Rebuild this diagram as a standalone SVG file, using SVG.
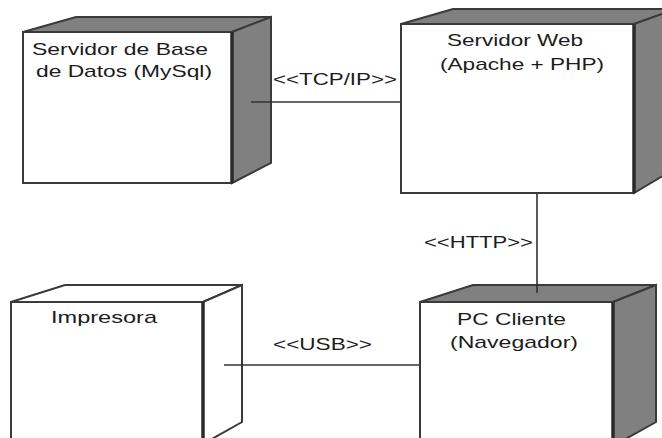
<svg xmlns="http://www.w3.org/2000/svg" width="662" height="438" viewBox="0 0 662 438">
<style>
.face{fill:#ffffff;stroke:#3a3a3a;stroke-width:2}
.shade{fill:#808080;stroke:#3a3a3a;stroke-width:2;stroke-linejoin:miter}
.plain{fill:#ffffff;stroke:#3a3a3a;stroke-width:2}
.edge{stroke:#2a2a2a;stroke-width:3.5}
.conn{stroke:#333333;stroke-width:1.6;fill:none}
text{font-family:"Liberation Sans",Arial,sans-serif;font-size:17px;fill:#1c1c1c}
</style>
<rect width="662" height="438" fill="#ffffff"/>
<g id="node-db">
<polygon class="shade" points="23,32 76,17 271,17 232,32"/>
<polygon class="shade" points="232,32 271,17 271,163 232,183"/>
<rect class="face" x="23" y="32" width="209" height="151"/>
<line class="edge" x1="232" y1="32" x2="232" y2="183"/>
<text x="32" y="55" textLength="176" lengthAdjust="spacingAndGlyphs">Servidor de Base</text>
<text x="36" y="77" textLength="176" lengthAdjust="spacingAndGlyphs">de Datos (MySql)</text>
</g>
<g id="node-web">
<polygon class="shade" points="401,24 453,9 676,9 634,24"/>
<polygon class="shade" points="634,24 676,9 676,168 634,193"/>
<rect class="face" x="401" y="24" width="233" height="169"/>
<line class="edge" x1="634" y1="24" x2="634" y2="193"/>
<text x="447" y="46" textLength="136" lengthAdjust="spacingAndGlyphs">Servidor Web</text>
<text x="440" y="70" textLength="164" lengthAdjust="spacingAndGlyphs">(Apache + PHP)</text>
</g>
<g id="node-impresora">
<polygon class="plain" points="11,302 65,285 242,285 203,302"/>
<polygon class="plain" points="203,302 242,285 242,422 203,444"/>
<rect class="face" x="11" y="302" width="192" height="150"/>
<line class="edge" x1="203" y1="302" x2="203" y2="450"/>
<text x="51" y="323" textLength="106" lengthAdjust="spacingAndGlyphs">Impresora</text>
</g>
<g id="node-pc">
<polygon class="shade" points="420,302 473,285 656,285 613,302"/>
<polygon class="shade" points="613,302 656,285 656,422 613,446"/>
<rect class="face" x="420" y="302" width="193" height="150"/>
<line class="edge" x1="613" y1="302" x2="613" y2="450"/>
<text x="457" y="325" textLength="109" lengthAdjust="spacingAndGlyphs">PC Cliente</text>
<text x="450" y="348" textLength="128" lengthAdjust="spacingAndGlyphs">(Navegador)</text>
</g>
<g id="connectors">
<line class="conn" x1="251" y1="102" x2="401" y2="102"/>
<line class="conn" x1="537" y1="193" x2="537" y2="293"/>
<line class="conn" x1="224" y1="365" x2="420" y2="365"/>
<text x="273" y="85" textLength="124" lengthAdjust="spacingAndGlyphs">&lt;&lt;TCP/IP&gt;&gt;</text>
<text x="424" y="248" textLength="109" lengthAdjust="spacingAndGlyphs">&lt;&lt;HTTP&gt;&gt;</text>
<text x="273" y="350" textLength="99" lengthAdjust="spacingAndGlyphs">&lt;&lt;USB&gt;&gt;</text>
</g>
</svg>
